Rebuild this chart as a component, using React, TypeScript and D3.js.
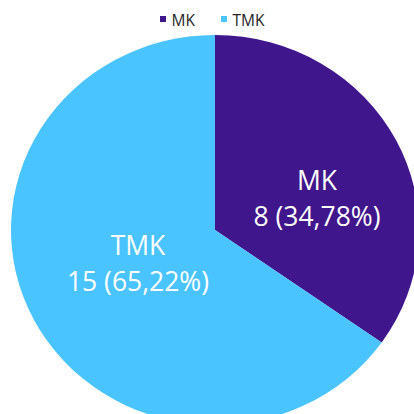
import React from "react";
import * as d3 from "d3";

const categories = ["MK", "TMK"];
const values = [8, 15];
const colors = ["#3f168b", "#4ac4fe"];

export default function App() {
  const W = 414, H = 414;
  const cx = 215, cy = 230, rx = 204, ry = 195;
  const total = d3.sum(values);
  const pie = d3.pie<number>().sort(null).value((d) => d);
  const arcs = pie(values);
  const arc = d3.arc<d3.PieArcDatum<number>>().innerRadius(0).outerRadius(rx);
  const fmt = (v: number) => ((v / total) * 100).toFixed(2).replace(".", ",");
  const labelPos = [
    [102, -40],
    [-77, 25],
  ];
  return (
    <svg
      width={W}
      height={H}
      style={{ position: "absolute", left: 0, top: 0, fontFamily: "'Open Sans', sans-serif" }}
    >
      <rect width={W} height={H} fill="#fff" />
      <g transform={`translate(${cx},${cy}) scale(1,${ry / rx})`}>
        {arcs.map((a, i) => (
          <path key={i} d={arc(a) || ""} fill={colors[i]} />
        ))}
      </g>
      {arcs.map((a, i) => {
        const [lx, ly] = labelPos[i];
        return (
          <text key={i} x={cx + lx} y={cy + ly} fill="#fff" fontSize={26.5} textAnchor="middle">
            <tspan x={cx + lx} dy={0}>{categories[i]}</tspan>
            <tspan x={cx + lx} dy={36}>{`${values[i]} (${fmt(values[i])}%)`}</tspan>
          </text>
        );
      })}
      <g fontSize={15.5} fill="#252423">
        {categories.map((c, i) => {
          const x0 = i === 0 ? 160 : 221;
          return (
            <g key={c}>
              <rect x={x0} y={16} width={6} height={6} fill={colors[i]} />
              <text x={x0 + 11.5} y={26}>{c}</text>
            </g>
          );
        })}
      </g>
    </svg>
  );
}
